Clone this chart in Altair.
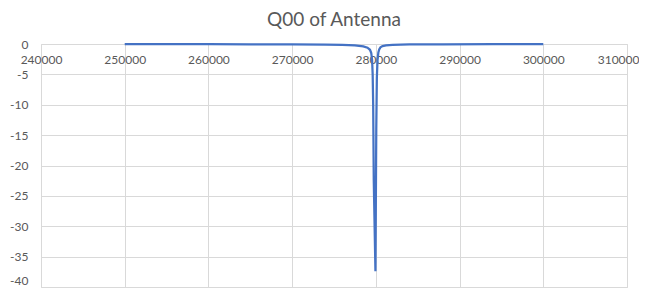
import altair as alt
import pandas as pd

freq = [250000, 255000, 260000, 265000, 270000, 274000, 276000, 277500, 278500, 279000,
        279300, 279450, 279550, 279620, 279680, 279750, 279950, 280050, 280120, 280200,
        280300, 280400, 280550, 280800, 281200, 282000, 284000, 288000, 294000, 300000]
s11 = [-0.03, -0.03, -0.04, -0.05, -0.07, -0.1, -0.14, -0.22, -0.4, -0.6,
       -0.95, -1.5, -2.6, -5.0, -10.0, -22.4, -37.4, -14.0, -5.5, -2.6,
       -1.4, -0.9, -0.55, -0.35, -0.22, -0.13, -0.08, -0.05, -0.04, -0.03]

df = pd.DataFrame({"f": freq, "v": s11})

x_ticks = [240000, 250000, 260000, 270000, 280000, 290000, 300000, 310000]
y_ticks = [0, -5, -10, -15, -20, -25, -30, -35, -40]

FONT = "Lato"
GRID = "#d9d9d9"
TXT = "#595959"

chart = alt.Chart(df, title=alt.Title("Q00 of Antenna", fontSize=19, font=FONT,
                                      fontWeight="normal", color=TXT, anchor="middle",
                                      offset=8)).mark_line(
    color="#4472C4", strokeWidth=2.25
).encode(
    x=alt.X("f:Q", scale=alt.Scale(domain=[240000, 310000], nice=False, zero=False),
            axis=alt.Axis(orient="bottom", offset=-243, values=x_ticks, title=None,
                          labelExpr="datum.value + ''", grid=True, gridColor=GRID,
                          gridWidth=1, domain=False, ticks=False, labelPadding=10,
                          labelFont=FONT, labelFontSize=12, labelColor=TXT,
                          labelAlign={"condition": {"test": "datum.value == 310000", "value": "right"},
                                      "value": "center"},
                          labelOffset={"condition": {"test": "datum.value == 310000", "value": 12},
                                       "value": 0},
                          labelOverlap=False, labelFlush=False)),
    y=alt.Y("v:Q", scale=alt.Scale(domain=[-40, 0], nice=False, zero=False),
            axis=alt.Axis(values=y_ticks, title=None, labelExpr="datum.value + ''",
                          grid=True, gridColor=GRID, gridWidth=1, domain=False,
                          ticks=False, labelPadding=13, labelFont=FONT, labelFontSize=12,
                          labelColor=TXT,
                          labelBaseline={"condition": {"test": "datum.value == -40", "value": "bottom"},
                                         "value": "middle"},
                          labelOverlap=False, labelFlush=False)),
).properties(
    width=586, height=243,
    autosize=alt.AutoSizeParams(type="none"),
    padding={"left": 33, "top": 36, "right": 12, "bottom": 1},
).configure_view(stroke=None).configure(background="white")

chart.save("out.html", embed_options={"renderer": "svg", "actions": False})
